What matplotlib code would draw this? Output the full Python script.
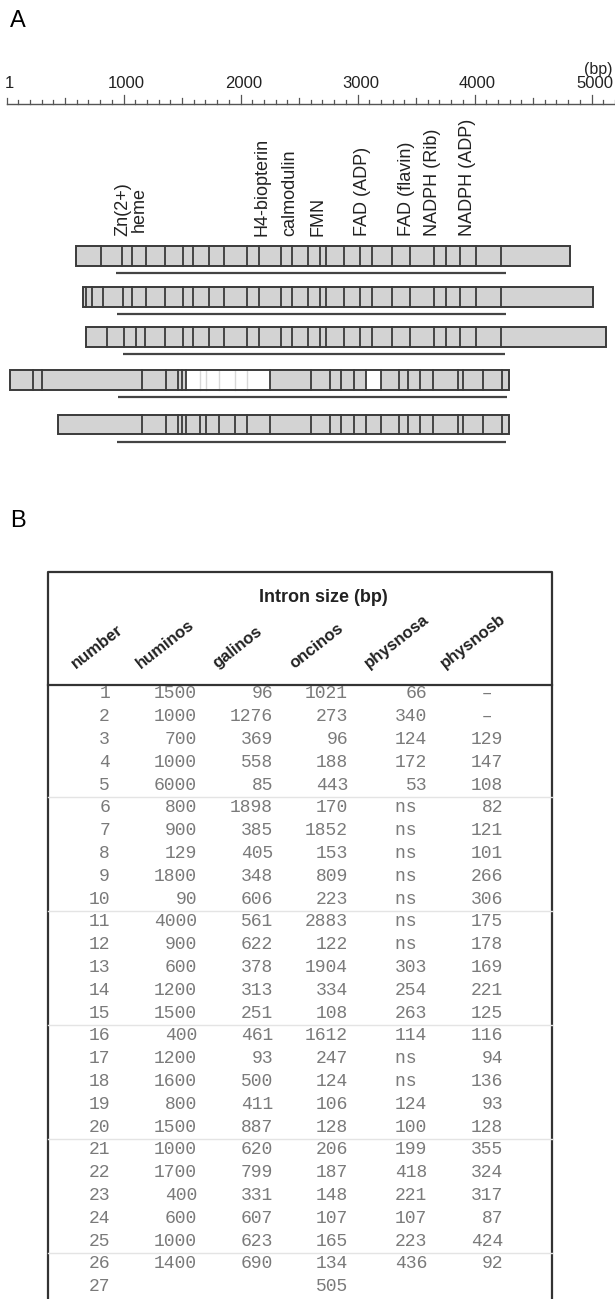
import matplotlib.pyplot as plt
from matplotlib.patches import Rectangle

plt.rcParams['font.family'] = ['Liberation Sans', 'DejaVu Sans']

# ---- panel A data (positions in bp) ----
ruler_labels = [1, 1000, 2000, 3000, 4000, 5000]

features = ["Zn(2+)\nheme", "H4-biopterin", "calmodulin", "FMN", "FAD (ADP)",
            "FAD (flavin)", "NADPH (Rib)", "NADPH (ADP)"]
feature_bp = [1064, 2184, 2423, 2662, 3047, 3415, 3645, 3944]

gene_bounds = [
    [598, 808, 984, 1073, 1192, 1355, 1509, 1594, 1731, 1859, 2056, 2162, 2350, 2440,
     2577, 2679, 2735, 2885, 3021, 3124, 3299, 3449, 3654, 3756, 3880, 4017, 4225, 4812],
    [651, 679, 733, 821, 993, 1070, 1192, 1355, 1509, 1594, 1731, 1859, 2056, 2162, 2350,
     2440, 2577, 2679, 2735, 2885, 3021, 3124, 3299, 3449, 3654, 3756, 3880, 4017, 4225, 5015],
    [679, 856, 1004, 1107, 1184, 1355, 1509, 1594, 1731, 1859, 2056, 2162, 2350, 2440,
     2577, 2679, 2735, 2885, 3021, 3124, 3299, 3449, 3654, 3756, 3880, 4017, 4225, 5124],
    [30, 229, 303, 1162, 1363, 1470, 1500, 1534, 2248, 2603, 2765, 2855, 2974, 3073, 3197,
     3355, 3432, 3534, 3645, 3859, 3902, 4073, 4239, 4295],
    [444, 1162, 1363, 1470, 1500, 1534, 1650, 1709, 1816, 1953, 2056, 2248, 2603, 2765,
     2855, 2974, 3073, 3197, 3355, 3432, 3534, 3645, 3859, 3902, 4073, 4239, 4295],
]
white_exons = [[], [], [], [(1534, 2248), (3073, 3197)], []]
white_inner = [1650, 1709, 1816, 1953, 2056]
cds_spans = [(936, 4269), (947, 4269), (998, 4261), (950, 4275), (942, 4269)]

# ---- panel B data ----
columns = ["number", "huminos", "galinos", "oncinos", "physnosa", "physnosb"]
number = [str(i) for i in range(1, 28)]
huminos = ["1500", "1000", "700", "1000", "6000", "800", "900", "129", "1800", "90",
           "4000", "900", "600", "1200", "1500", "400", "1200", "1600", "800", "1500",
           "1000", "1700", "400", "600", "1000", "1400", ""]
galinos = ["96", "1276", "369", "558", "85", "1898", "385", "405", "348", "606",
           "561", "622", "378", "313", "251", "461", "93", "500", "411", "887",
           "620", "799", "331", "607", "623", "690", ""]
oncinos = ["1021", "273", "96", "188", "443", "170", "1852", "153", "809", "223",
           "2883", "122", "1904", "334", "108", "1612", "247", "124", "106", "128",
           "206", "187", "148", "107", "165", "134", "505"]
physnosa = ["66", "340", "124", "172", "53", "ns ", "ns ", "ns ", "ns ", "ns ",
            "ns ", "ns ", "303", "254", "263", "114", "ns ", "ns ", "124", "100",
            "199", "418", "221", "107", "223", "436", ""]
physnosb = [" \u2013 ", " \u2013 ", "129", "147", "108", "82", "121", "101", "266", "306",
            "175", "178", "169", "221", "125", "116", "94", "136", "93", "128",
            "355", "324", "317", "87", "424", "92", ""]
table_cols = [number, huminos, galinos, oncinos, physnosa, physnosb]

W, H = 615, 1299
fig = plt.figure(figsize=(W / 100, H / 100), dpi=100)

# ================= panel A =================
hA = 460
axA = fig.add_axes([0, 1 - hA / H, 1, hA / H])
px = 0.117  # px per bp
axA.set_xlim(-6.5 / px, (W - 6.5) / px)
axA.set_ylim(hA, 0)
axA.axis('off')

axA.text(30, 21, "A", fontsize=17, va='center', ha='left')

dark = '#3a3a3a'
ruler_y = 103.5
axA.plot([1, (W - 6.5) / px], [ruler_y, ruler_y], color='#555555', lw=1.0)
for t in range(100, 5201, 100):
    ln = 9 if t % 1000 == 0 else (5.5 if t % 500 == 0 else 3.5)
    axA.plot([t, t], [ruler_y, ruler_y - ln], color='#555555', lw=0.9)
axA.plot([1, 1], [ruler_y, ruler_y - 6], color='#555555', lw=0.9)
for t in ruler_labels:
    axA.text(t + 25, 91, str(t), fontsize=12, ha='center', va='bottom', color='#222222')
axA.text(5060, 74, "(bp)", fontsize=11.5, ha='center', va='baseline', color='#222222')

for lab, x in zip(features, feature_bp):
    axA.text(x, 236, lab, rotation=90, fontsize=13, ha='center', va='bottom',
             color='#222222', linespacing=0.95)

row_top = [246, 287, 327, 370, 414.5]
row_h = 19.5
for i, b in enumerate(gene_bounds):
    y0 = row_top[i]
    axA.add_patch(Rectangle((b[0], y0), b[-1] - b[0], row_h, facecolor='#d3d3d3',
                            edgecolor='none', zorder=1))
    for (s, e) in white_exons[i]:
        axA.add_patch(Rectangle((s, y0), e - s, row_h, facecolor='white',
                                edgecolor='none', zorder=2))
        if e - s > 300:
            for w in white_inner:
                axA.plot([w, w], [y0, y0 + row_h], color='#d8d8d8', lw=1.0, zorder=3)
    for x in b[1:-1]:
        axA.plot([x, x], [y0, y0 + row_h], color=dark, lw=1.3, zorder=4)
    axA.add_patch(Rectangle((b[0], y0), b[-1] - b[0], row_h, facecolor='none',
                            edgecolor=dark, lw=1.4, zorder=5))
    s, e = cds_spans[i]
    axA.plot([s, e], [y0 + 27, y0 + 27], color='#444444', lw=1.6, solid_capstyle='butt')

# ================= panel B =================
axB = fig.add_axes([0, 0, 1, 1 - hA / H])
axB.set_xlim(0, W)
axB.set_ylim(H, hA)
axB.axis('off')

axB.text(10, 521, "B", fontsize=17, va='center', ha='left')

left, right, top, head = 48, 552, 572, 685
axB.plot([left, left, right, right], [H + 5, top, top, H + 5], color='#333333', lw=1.6)
axB.plot([left, right], [head, head], color='#333333', lw=1.6)

axB.text(323, 598, "Intron size (bp)", fontsize=13, fontweight='bold',
         ha='center', va='center', color='#222222')

head_x = [76, 141, 218, 294, 369, 445]
for lab, x in zip(columns, head_x):
    axB.text(x, 669, lab, rotation=38, rotation_mode='anchor', ha='left', va='baseline',
             fontsize=12, fontweight='bold', color='#222222')

col_right = [110, 197, 273, 348, 427, 503]
row0, dy = 694, 22.8
for col, xr in zip(table_cols, col_right):
    for r, v in enumerate(col):
        axB.text(xr, row0 + r * dy, v, fontsize=13, family='Liberation Mono',
                 ha='right', va='center', color='#7a7a7a')

for k in range(5, 26, 5):
    y = row0 + (k - 0.5) * dy
    axB.plot([left, right], [y, y], color='#e4e4e4', lw=1.0)

fig.savefig("out.png", dpi=100)
